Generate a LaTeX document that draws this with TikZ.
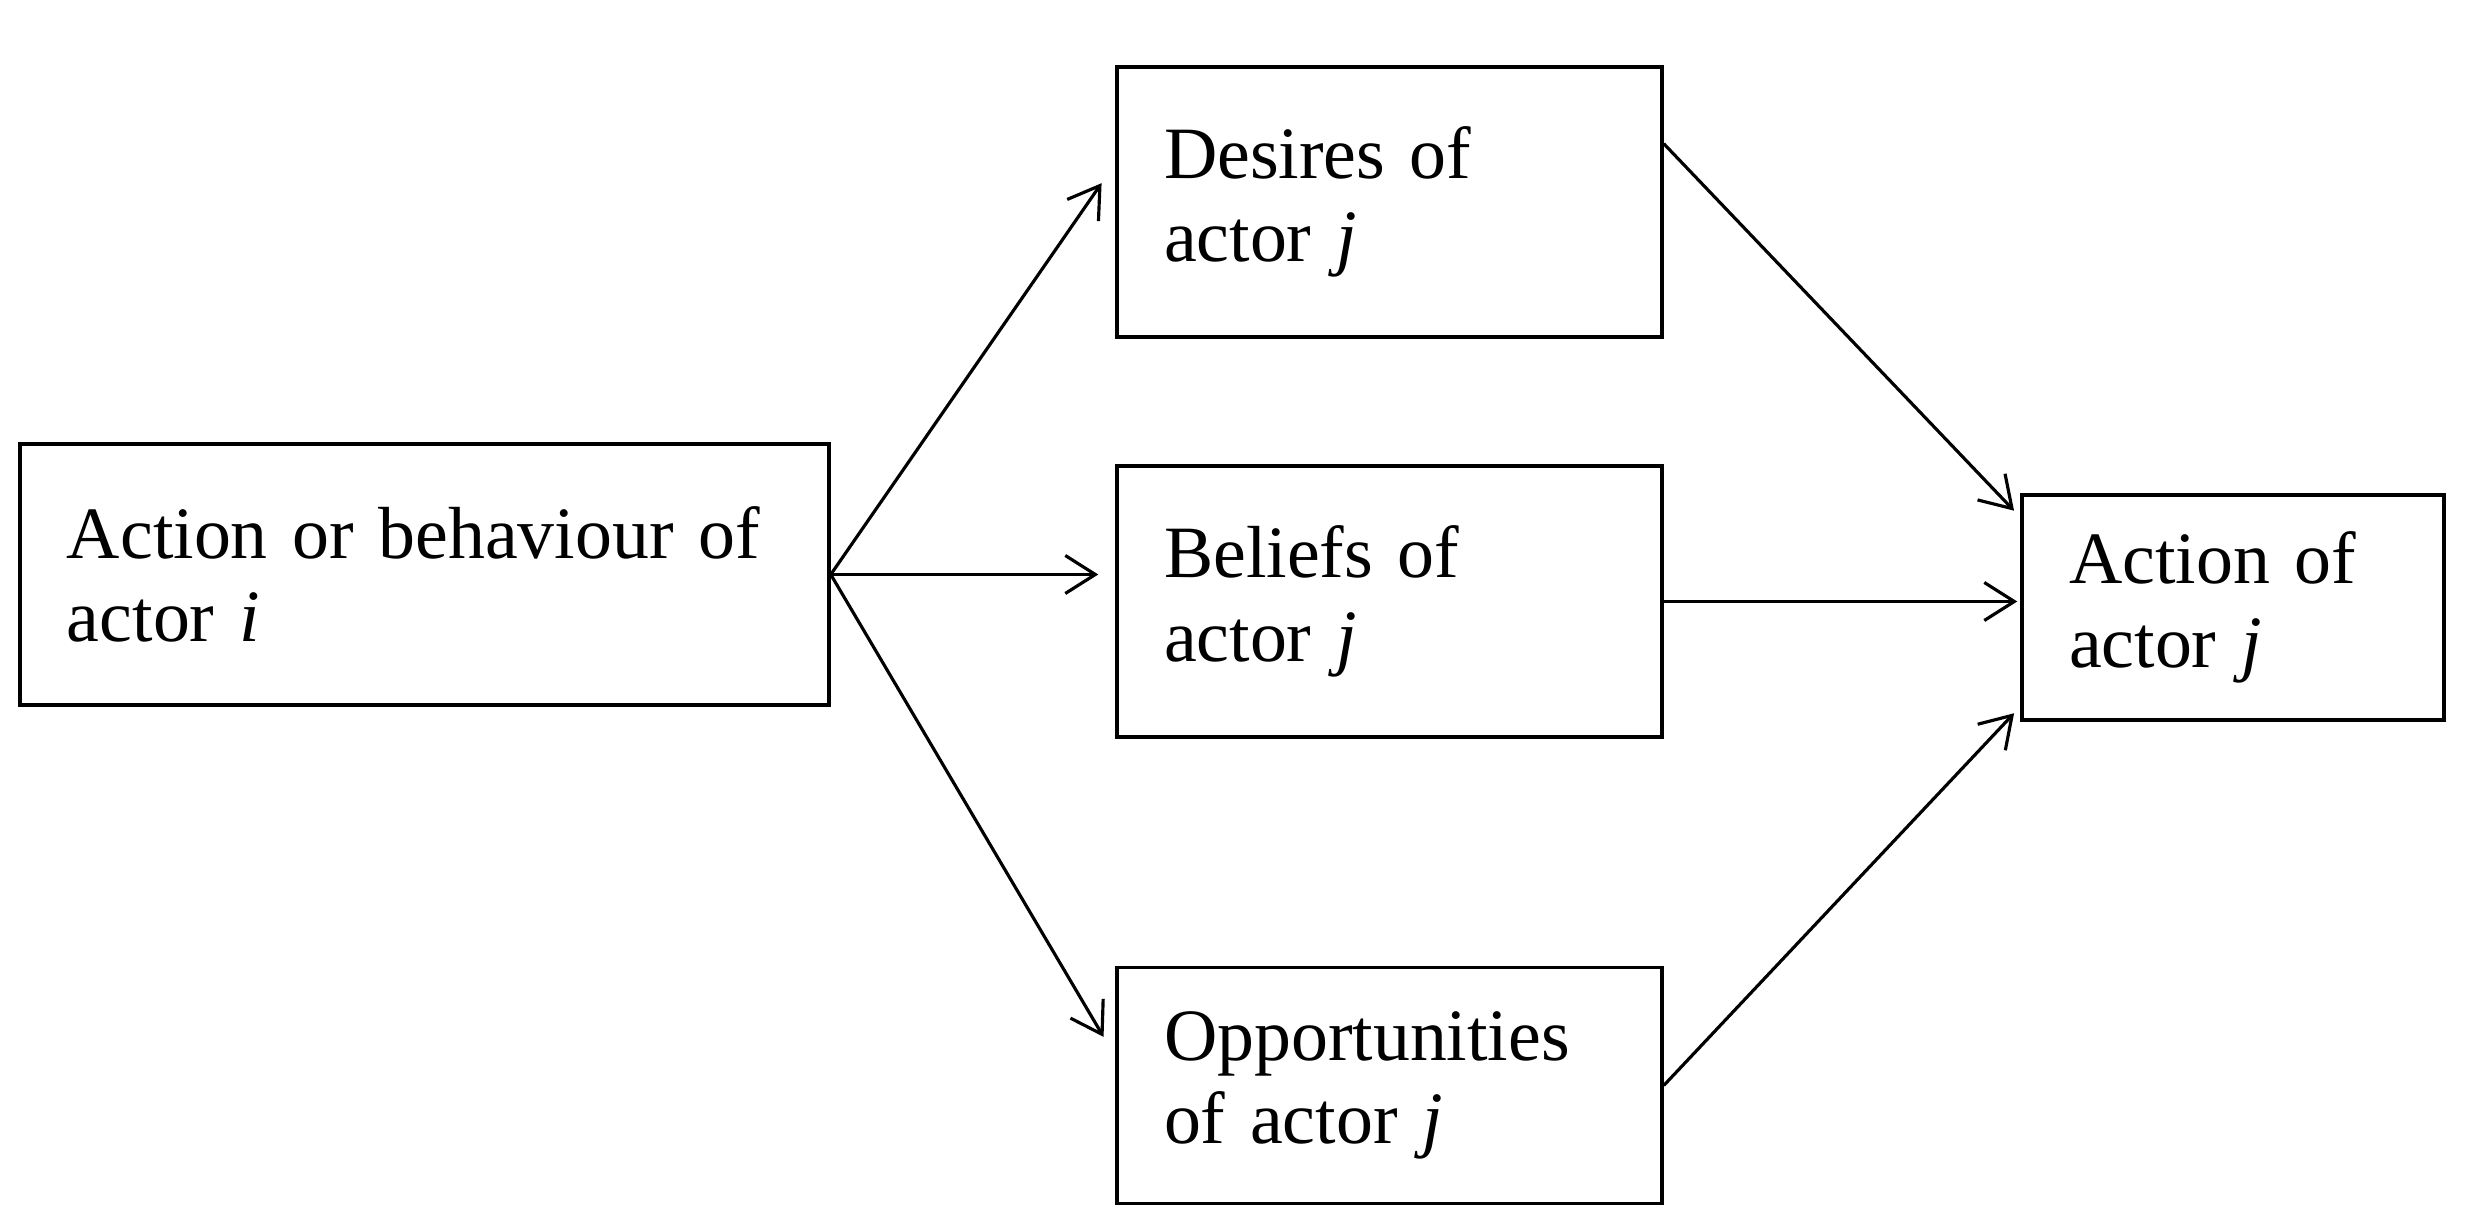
\documentclass[tikz,border=0pt]{standalone}
\usepackage{fontspec}
\setmainfont{Liberation Serif}
\usepackage{tikz}
\usetikzlibrary{arrows.meta}

\begin{document}
\begin{tikzpicture}[
    box/.style={rectangle, draw, line width=1pt, inner xsep=4.7mm, inner ysep=0pt, align=left, font=\fontsize{21pt}{23.8pt}\selectfont},
    arrow/.style={-{Straight Barb[length=3mm,width=3.8mm]}, line width=0.9pt}
]
\useasboundingbox (0,0) rectangle (24.85,-12.31);

% Source
\node[box, text width=7.15cm, minimum height=2.61cm] (action_i) at (4.245,-5.745) {Action or behaviour of\\actor \textit{i}};

% Middle column
\node[box, text width=4.51cm, minimum height=2.70cm] (desires_j) at (13.895,-2.02) {Desires of\\actor \textit{j}};
\node[box, text width=4.51cm, minimum height=2.71cm] (beliefs_j) at (13.895,-6.015) {Beliefs of\\actor \textit{j}};
\node[box, text width=4.51cm, minimum height=2.36cm] (opportunities_j) at (13.895,-10.855) {Opportunities\\of actor \textit{j}};

% Target
\node[box, text width=3.28cm, minimum height=2.25cm] (action_j) at (22.33,-6.075) {Action of\\actor \textit{j}};

% Connections
\draw[arrow, shorten >=2.4mm] (action_i.east) -- (desires_j.172);
\draw[arrow, shorten >=1.7mm] (action_i.east) -- (action_i.east -| beliefs_j.west);
\draw[arrow, shorten >=2.3mm] (action_i.east) -- (opportunities_j.174);

\draw[arrow, shorten >=0.9mm] (desires_j.12) -- (action_j.157.7);
\draw[arrow, shorten >=0.3mm] (beliefs_j.east) -- (beliefs_j.east -| action_j.west);
\draw[arrow, shorten >=0.9mm] (opportunities_j.east) -- (action_j.205.1);

\end{tikzpicture}
\end{document}
